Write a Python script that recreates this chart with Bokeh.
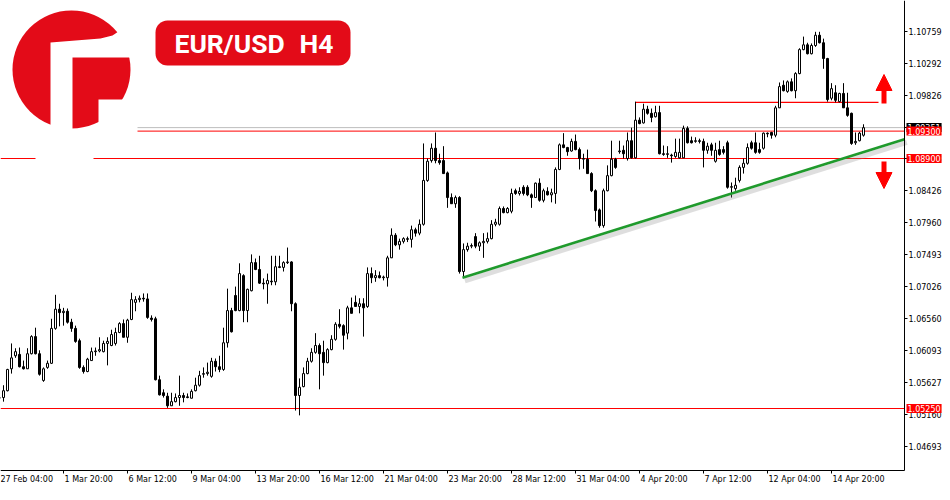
from bokeh.plotting import figure
from bokeh.models import (Range1d, FixedTicker, PrintfTickFormatter, Label, BoxAnnotation,
                          Arrow, NormalHead, ColumnDataSource)
from bokeh.core.properties import value
from bokeh.embed import file_html
from bokeh.resources import INLINE

# ---------------- data (EUR/USD, H4 candles) ----------------
opens = [
    1.0540, 1.0541, 1.0551, 1.0583, 1.0602, 1.0604, 1.0586, 1.0583, 1.0605, 1.0630,
    1.0605, 1.0566, 1.0585, 1.0591, 1.0642, 1.0670, 1.0665, 1.0667, 1.0651, 1.0642,
    1.0624, 1.0585, 1.0579, 1.0595, 1.0608, 1.0609, 1.0608, 1.0620, 1.0617, 1.0620,
    1.0636, 1.0649, 1.0629, 1.0655, 1.0680, 1.0684, 1.0686, 1.0685, 1.0657, 1.0656,
    1.0567, 1.0548, 1.0543, 1.0529, 1.0535, 1.0541, 1.0544, 1.0542, 1.0540, 1.0551,
    1.0559, 1.0575, 1.0576, 1.0572, 1.0594, 1.0586, 1.0582, 1.0621, 1.0668, 1.0690,
    1.0668, 1.0719, 1.0668, 1.0697, 1.0738, 1.0728, 1.0708, 1.0707, 1.0711, 1.0710,
    1.0732, 1.0731, 1.0738, 1.0739, 1.0678, 1.0544, 1.0557, 1.0576, 1.0594, 1.0607,
    1.0617, 1.0607, 1.0592, 1.0611, 1.0626, 1.0648, 1.0646, 1.0635, 1.0672, 1.0680,
    1.0674, 1.0678, 1.0674, 1.0722, 1.0716, 1.0719, 1.0716, 1.0716, 1.0745, 1.0778,
    1.0764, 1.0769, 1.0773, 1.0772, 1.0786, 1.0781, 1.0794, 1.0858, 1.0887, 1.0905,
    1.0887, 1.0887, 1.0869, 1.0833, 1.0824, 1.0833, 1.0725, 1.0757, 1.0762, 1.0776,
    1.0762, 1.0767, 1.0769, 1.0773, 1.0794, 1.0794, 1.0817, 1.0811, 1.0813, 1.0843,
    1.0839, 1.0848, 1.0848, 1.0837, 1.0833, 1.0854, 1.0829, 1.0842, 1.0837, 1.0839,
    1.0874, 1.0910, 1.0906, 1.0901, 1.0915, 1.0903, 1.0889, 1.0889, 1.0868, 1.0843,
    1.0815, 1.0792, 1.0843, 1.0865, 1.0889, 1.0900, 1.0902, 1.0890, 1.0916, 1.0891,
    1.0946, 1.0942, 1.0962, 1.0956, 1.0951, 1.0957, 1.0897, 1.0896, 1.0895, 1.0893,
    1.0891, 1.0891, 1.0934, 1.0916, 1.0915, 1.0916, 1.0915, 1.0902, 1.0910, 1.0886,
    1.0903, 1.0903, 1.0913, 1.0848, 1.0846, 1.0858, 1.0877, 1.0883, 1.0913, 1.0913,
    1.0903, 1.0905, 1.0927, 1.0928, 1.0924, 1.0964, 1.0997, 1.0988, 1.1002, 1.0989,
    1.1014, 1.1049, 1.1056, 1.1043, 1.1055, 1.1070, 1.1059, 1.1036, 1.0978, 1.0986,
    1.0973, 1.0985, 1.0964, 1.0956, 1.0913, 1.0916, 1.0924,
]
highs = [
    1.0554, 1.0559, 1.0583, 1.0620, 1.0613, 1.0614, 1.0595, 1.0613, 1.0632, 1.0643,
    1.0610, 1.0585, 1.0595, 1.0656, 1.0691, 1.0678, 1.0672, 1.0671, 1.0656, 1.0646,
    1.0627, 1.0588, 1.0599, 1.0614, 1.0614, 1.0629, 1.0624, 1.0629, 1.0640, 1.0643,
    1.0651, 1.0655, 1.0656, 1.0694, 1.0689, 1.0690, 1.0693, 1.0693, 1.0661, 1.0659,
    1.0573, 1.0553, 1.0548, 1.0548, 1.0547, 1.0573, 1.0548, 1.0547, 1.0553, 1.0570,
    1.0580, 1.0585, 1.0592, 1.0599, 1.0598, 1.0602, 1.0643, 1.0700, 1.0672, 1.0703,
    1.0737, 1.0721, 1.0700, 1.0750, 1.0744, 1.0748, 1.0715, 1.0722, 1.0748, 1.0748,
    1.0748, 1.0740, 1.0760, 1.0740, 1.0680, 1.0569, 1.0585, 1.0599, 1.0613, 1.0635,
    1.0620, 1.0624, 1.0613, 1.0632, 1.0651, 1.0670, 1.0648, 1.0675, 1.0687, 1.0690,
    1.0686, 1.0686, 1.0731, 1.0731, 1.0727, 1.0725, 1.0719, 1.0748, 1.0788, 1.0781,
    1.0773, 1.0775, 1.0776, 1.0792, 1.0789, 1.0801, 1.0912, 1.0890, 1.0912, 1.0928,
    1.0897, 1.0908, 1.0871, 1.0839, 1.0836, 1.0835, 1.0766, 1.0767, 1.0766, 1.0781,
    1.0769, 1.0781, 1.0782, 1.0800, 1.0802, 1.0820, 1.0820, 1.0819, 1.0846, 1.0846,
    1.0848, 1.0851, 1.0851, 1.0839, 1.0855, 1.0861, 1.0846, 1.0848, 1.0846, 1.0877,
    1.0912, 1.0927, 1.0907, 1.0919, 1.0925, 1.0906, 1.0897, 1.0903, 1.0870, 1.0845,
    1.0817, 1.0846, 1.0880, 1.0916, 1.0891, 1.0916, 1.0909, 1.0928, 1.0935, 1.0973,
    1.0950, 1.0970, 1.0967, 1.0963, 1.0967, 1.0967, 1.0909, 1.0908, 1.0897, 1.0919,
    1.0919, 1.0938, 1.0937, 1.0922, 1.0921, 1.0919, 1.0919, 1.0913, 1.0913, 1.0913,
    1.0916, 1.0908, 1.0916, 1.0855, 1.0862, 1.0880, 1.0890, 1.0912, 1.0916, 1.0928,
    1.0913, 1.0928, 1.0928, 1.0929, 1.0967, 1.1001, 1.1004, 1.1004, 1.1007, 1.1016,
    1.1051, 1.1068, 1.1059, 1.1058, 1.1075, 1.1075, 1.1065, 1.1037, 1.1000, 1.0997,
    1.0986, 1.1000, 1.0986, 1.0957, 1.0928, 1.0929, 1.0940,
]
lows = [
    1.0532, 1.0535, 1.0550, 1.0576, 1.0599, 1.0585, 1.0582, 1.0583, 1.0604, 1.0604,
    1.0573, 1.0564, 1.0583, 1.0590, 1.0640, 1.0645, 1.0646, 1.0649, 1.0637, 1.0621,
    1.0583, 1.0576, 1.0578, 1.0595, 1.0602, 1.0607, 1.0607, 1.0588, 1.0616, 1.0617,
    1.0635, 1.0629, 1.0621, 1.0654, 1.0667, 1.0680, 1.0681, 1.0656, 1.0652, 1.0566,
    1.0544, 1.0541, 1.0526, 1.0529, 1.0534, 1.0529, 1.0534, 1.0540, 1.0540, 1.0550,
    1.0557, 1.0570, 1.0573, 1.0570, 1.0579, 1.0578, 1.0580, 1.0614, 1.0636, 1.0667,
    1.0667, 1.0651, 1.0651, 1.0696, 1.0727, 1.0707, 1.0699, 1.0678, 1.0705, 1.0705,
    1.0730, 1.0725, 1.0736, 1.0667, 1.0522, 1.0515, 1.0556, 1.0575, 1.0592, 1.0605,
    1.0553, 1.0573, 1.0591, 1.0610, 1.0624, 1.0642, 1.0611, 1.0626, 1.0664, 1.0674,
    1.0664, 1.0630, 1.0672, 1.0708, 1.0710, 1.0715, 1.0712, 1.0703, 1.0745, 1.0762,
    1.0757, 1.0766, 1.0768, 1.0760, 1.0776, 1.0778, 1.0792, 1.0856, 1.0884, 1.0883,
    1.0881, 1.0868, 1.0818, 1.0824, 1.0818, 1.0722, 1.0716, 1.0754, 1.0759, 1.0759,
    1.0755, 1.0745, 1.0766, 1.0772, 1.0791, 1.0792, 1.0810, 1.0810, 1.0810, 1.0837,
    1.0836, 1.0836, 1.0835, 1.0818, 1.0833, 1.0827, 1.0826, 1.0836, 1.0826, 1.0824,
    1.0873, 1.0905, 1.0894, 1.0900, 1.0902, 1.0874, 1.0875, 1.0868, 1.0841, 1.0798,
    1.0789, 1.0789, 1.0842, 1.0864, 1.0875, 1.0897, 1.0890, 1.0887, 1.0890, 1.0890,
    1.0940, 1.0941, 1.0954, 1.0943, 1.0950, 1.0896, 1.0894, 1.0891, 1.0884, 1.0891,
    1.0890, 1.0891, 1.0912, 1.0912, 1.0913, 1.0912, 1.0877, 1.0897, 1.0894, 1.0884,
    1.0894, 1.0896, 1.0846, 1.0833, 1.0843, 1.0855, 1.0868, 1.0881, 1.0903, 1.0897,
    1.0897, 1.0903, 1.0921, 1.0919, 1.0921, 1.0964, 1.0988, 1.0986, 1.0988, 1.0978,
    1.1013, 1.1048, 1.1042, 1.1042, 1.1053, 1.1058, 1.1021, 1.0973, 1.0975, 1.0972,
    1.0972, 1.0964, 1.0951, 1.0910, 1.0910, 1.0915, 1.0922,
]
closes = [
    1.0541, 1.0551, 1.0582, 1.0599, 1.0608, 1.0586, 1.0583, 1.0605, 1.0630, 1.0605,
    1.0575, 1.0583, 1.0591, 1.0642, 1.0670, 1.0665, 1.0667, 1.0651, 1.0642, 1.0623,
    1.0585, 1.0579, 1.0597, 1.0608, 1.0609, 1.0611, 1.0620, 1.0623, 1.0633, 1.0636,
    1.0649, 1.0629, 1.0654, 1.0684, 1.0684, 1.0686, 1.0685, 1.0658, 1.0655, 1.0567,
    1.0545, 1.0544, 1.0529, 1.0535, 1.0541, 1.0544, 1.0541, 1.0541, 1.0550, 1.0559,
    1.0573, 1.0576, 1.0578, 1.0594, 1.0586, 1.0582, 1.0621, 1.0668, 1.0637, 1.0668,
    1.0722, 1.0668, 1.0699, 1.0738, 1.0728, 1.0708, 1.0707, 1.0712, 1.0710, 1.0732,
    1.0731, 1.0738, 1.0739, 1.0678, 1.0544, 1.0556, 1.0576, 1.0594, 1.0607, 1.0617,
    1.0605, 1.0592, 1.0611, 1.0626, 1.0648, 1.0645, 1.0632, 1.0672, 1.0664, 1.0674,
    1.0678, 1.0672, 1.0722, 1.0716, 1.0719, 1.0716, 1.0717, 1.0745, 1.0778, 1.0764,
    1.0769, 1.0773, 1.0772, 1.0786, 1.0781, 1.0794, 1.0858, 1.0886, 1.0905, 1.0887,
    1.0884, 1.0868, 1.0833, 1.0824, 1.0833, 1.0725, 1.0757, 1.0762, 1.0763, 1.0762,
    1.0767, 1.0769, 1.0773, 1.0794, 1.0797, 1.0817, 1.0811, 1.0817, 1.0839, 1.0839,
    1.0842, 1.0839, 1.0837, 1.0833, 1.0854, 1.0829, 1.0843, 1.0837, 1.0840, 1.0874,
    1.0910, 1.0906, 1.0900, 1.0915, 1.0903, 1.0890, 1.0890, 1.0868, 1.0843, 1.0814,
    1.0792, 1.0843, 1.0865, 1.0889, 1.0877, 1.0901, 1.0897, 1.0916, 1.0891, 1.0946,
    1.0941, 1.0962, 1.0956, 1.0950, 1.0957, 1.0897, 1.0896, 1.0897, 1.0894, 1.0899,
    1.0899, 1.0934, 1.0913, 1.0913, 1.0916, 1.0915, 1.0902, 1.0908, 1.0902, 1.0902,
    1.0896, 1.0899, 1.0848, 1.0849, 1.0851, 1.0877, 1.0883, 1.0906, 1.0905, 1.0899,
    1.0899, 1.0927, 1.0926, 1.0924, 1.0964, 1.0995, 1.0989, 1.1002, 1.0989, 1.1014,
    1.1049, 1.1056, 1.1043, 1.1055, 1.1070, 1.1059, 1.1036, 1.0976, 1.0992, 1.0975,
    1.0985, 1.0964, 1.0953, 1.0912, 1.0915, 1.0927, 1.0935,
]

x_tick_bars = [0, 16, 32, 48, 64, 80, 96, 112, 128, 144, 160, 176, 192, 208]
x_tick_labels = ["27 Feb 04:00", "1 Mar 20:00", "6 Mar 12:00", "9 Mar 04:00", "13 Mar 20:00",
                 "16 Mar 12:00", "21 Mar 04:00", "23 Mar 20:00", "28 Mar 12:00", "31 Mar 04:00",
                 "4 Apr 20:00", "7 Apr 12:00", "12 Apr 04:00", "14 Apr 20:00"]
price_ticks = [1.10759, 1.10292, 1.09826, 1.09359, 1.08893, 1.08426, 1.07960, 1.07493,
               1.07026, 1.06560, 1.06093, 1.05627, 1.05160, 1.04693]

level_resistance = 1.0972
resistance_from_bar = 159
level_mid = 1.0930
level_support = 1.0890
level_bottom = 1.0525
bid_price = 1.09351
trend_bars = [115.75, 226.25]
trend_prices = [1.0716, 1.0918]

# ---------------- layout helpers (reference pixel -> data) ----------------
PX_PER_BAR = 4.0
PRICE_AT_TOP = 1.11207
PRICE_PER_PX = 0.000146


def bx(px):
    return (px + 1.0) / PX_PER_BAR


def py(px):
    return PRICE_AT_TOP - PRICE_PER_PX * px


W, H = 942, 484
AXIS_X_PX = 904      # price axis position
AXIS_Y_PX = 470      # time axis position
RED = "#ff0000"
LOGO_RED = "#e30b18"
AX_FONT = "DejaVu Sans"
AX_SIZE = "8px"

p = figure(width=W, height=H,
           x_range=Range1d(bx(0), bx(W)), y_range=Range1d(py(H), py(0)),
           y_axis_location="right", output_backend="svg", toolbar_location=None,
           min_border_left=0, min_border_top=0, min_border_right=0, min_border_bottom=0,
           background_fill_color="white", border_fill_color="white")
p.grid.visible = False
p.outline_line_color = None

# time axis (tick marks from bokeh, labels written left-aligned as text)
xa = p.xaxis[0]
xa.fixed_location = py(AXIS_Y_PX)
xa.bounds = (bx(-1), bx(AXIS_X_PX))
xa.ticker = FixedTicker(ticks=x_tick_bars)
xa.major_label_text_color = None
xa.major_label_text_font_size = "1px"
xa.major_tick_in = 0
xa.major_tick_out = 3
xa.minor_tick_line_color = None
xa.axis_line_color = "black"
xa.major_tick_line_color = "black"

p.text(x=x_tick_bars, y=[py(AXIS_Y_PX + 4)] * len(x_tick_bars), text=x_tick_labels,
       x_offset=1, text_align="left", text_baseline="top",
       text_font=value(AX_FONT), text_font_size=value(AX_SIZE), text_color="black")

# price axis
ya = p.yaxis[0]
ya.fixed_location = bx(AXIS_X_PX)
ya.bounds = (py(AXIS_Y_PX), py(0))
ya.ticker = FixedTicker(ticks=price_ticks)
ya.formatter = PrintfTickFormatter(format="%.5f")
ya.major_label_standoff = 1
ya.major_tick_in = 0
ya.major_tick_out = 3
ya.minor_tick_line_color = None
ya.axis_line_color = "black"
ya.major_tick_line_color = "black"
ya.major_label_text_font = AX_FONT
ya.major_label_text_font_size = AX_SIZE
ya.major_label_text_color = "black"

# ---------------- level lines ----------------
right_end = bx(AXIS_X_PX)
p.segment(x0=[bx(0)], x1=[right_end], y0=[level_support], y1=[level_support], line_color=RED, line_width=1)
p.segment(x0=[bx(0)], x1=[right_end], y0=[level_bottom], y1=[level_bottom], line_color=RED, line_width=1)
p.segment(x0=[bx(137)], x1=[right_end], y0=[bid_price], y1=[bid_price], line_color="#bdbdbd", line_width=1)
p.segment(x0=[bx(137)], x1=[right_end], y0=[level_mid], y1=[level_mid], line_color=RED, line_width=1)
p.segment(x0=[resistance_from_bar], x1=[bx(878)], y0=[level_resistance], y1=[level_resistance],
          line_color=RED, line_width=1.2)
# small white gap under the logo on the support line
p.quad(left=[bx(35)], right=[bx(93)], top=[py(155)], bottom=[py(161)], fill_color="white", line_color=None)

# ---------------- candles ----------------
idx = list(range(len(closes)))
src = ColumnDataSource(dict(
    x=idx, h=highs, l=lows,
    top=[max(o, c) for o, c in zip(opens, closes)],
    bottom=[min(o, c) for o, c in zip(opens, closes)],
    fill=["white" if c >= o else "black" for o, c in zip(opens, closes)],
))
p.segment(x0="x", y0="l", x1="x", y1="h", source=src, line_color="black", line_width=1)
p.vbar(x="x", width=0.5, top="top", bottom="bottom", fill_color="fill", line_color="black",
       line_width=1, source=src)

# ---------------- trend line ----------------
p.line(x=[b + 0.6 for b in trend_bars], y=[v - 0.00045 for v in trend_prices],
       line_color="#8a8a8a", line_alpha=0.28, line_width=5)
p.line(x=trend_bars, y=trend_prices, line_color="#1f9a2c", line_width=2.6)

# ---------------- arrows ----------------
p.add_layout(Arrow(end=NormalHead(size=16, fill_color=RED, line_color=RED),
                   x_start=bx(883.5), y_start=py(103), x_end=bx(883.5), y_end=py(74),
                   line_color=RED, line_width=5))
p.add_layout(Arrow(end=NormalHead(size=16, fill_color=RED, line_color=RED),
                   x_start=bx(883.5), y_start=py(161), x_end=bx(883.5), y_end=py(188),
                   line_color=RED, line_width=5))

# ---------------- logo ----------------
p.scatter(x=[bx(71)], y=[py(69)], size=118, marker="circle", fill_color=LOGO_RED, line_color=None)
p.patch(x=[bx(50), bx(100), bx(112), bx(118), bx(136), bx(136), bx(72), bx(72), bx(50)],
        y=[py(42), py(38), py(35), py(31), py(31), py(57), py(57), py(135), py(135)],
        fill_color="white", line_color=None)
p.quad(left=[bx(98)], right=[bx(136)], top=[py(99)], bottom=[py(135)], fill_color="white", line_color=None)

# ---------------- title badge ----------------
p.add_layout(BoxAnnotation(left=bx(155), right=bx(350), top=py(20), bottom=py(65),
                           fill_color=LOGO_RED, fill_alpha=1.0, line_color=None, border_radius=12))
p.add_layout(Label(x=bx(174), y=py(43), text="EUR/USD", text_align="left", text_baseline="middle",
                   text_font="Roboto", text_font_style="bold", text_font_size="26.5px", text_color="white"))
p.add_layout(Label(x=bx(333), y=py(43), text="H4", text_align="right", text_baseline="middle",
                   text_font="Roboto", text_font_style="bold", text_font_size="26.5px", text_color="white"))

# ---------------- price tags on the axis ----------------
for price, txt, bg in [(bid_price, "1.09351", "black"), (level_mid, "1.09300", RED),
                       (level_support, "1.08900", RED), (level_bottom, "1.05250", RED)]:
    p.add_layout(Label(x=bx(906), y=price, text=txt, text_align="left", text_baseline="middle",
                       text_font=AX_FONT, text_font_size=AX_SIZE, text_color="white",
                       background_fill_color=bg, padding=1))

open("out.html", "w").write(file_html(p, INLINE))
